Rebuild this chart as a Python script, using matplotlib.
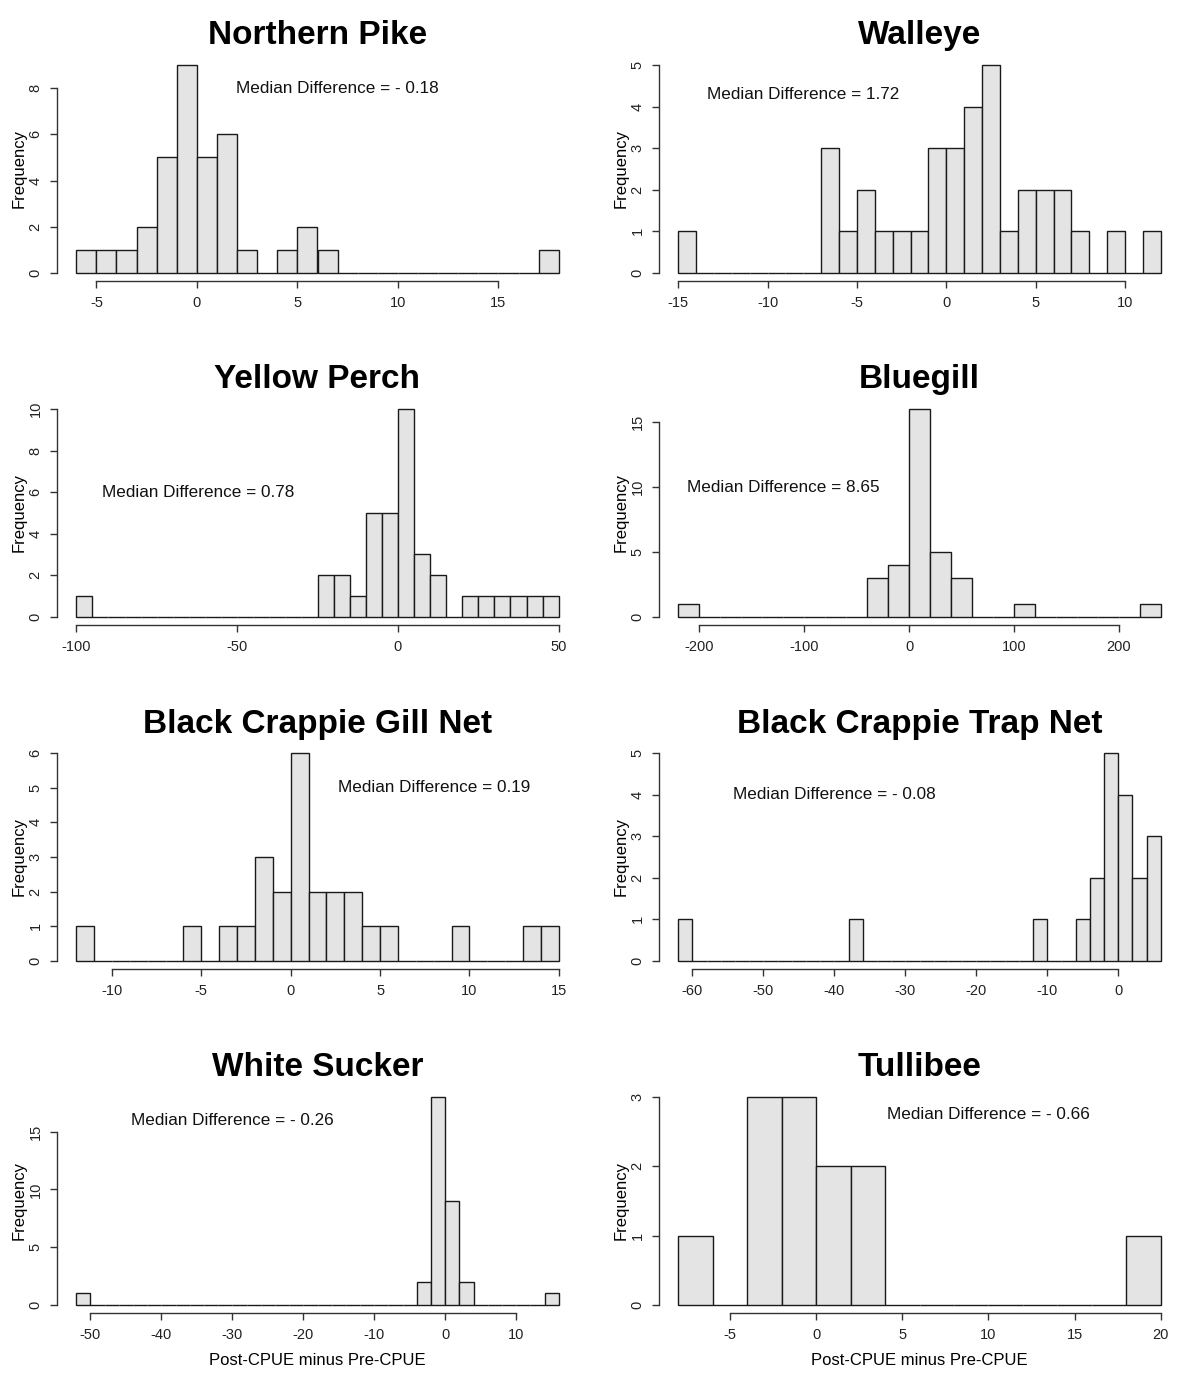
import numpy as np
import matplotlib
matplotlib.use("Agg")
import matplotlib.pyplot as plt

plt.rcParams['font.family'] = ['Liberation Sans', 'DejaVu Sans']
plt.rcParams['axes.unicode_minus'] = False

# species panels, in reading order (2 columns x 4 rows)
species = ['Northern Pike', 'Walleye', 'Yellow Perch', 'Bluegill',
           'Black Crappie Gill Net', 'Black Crappie Trap Net',
           'White Sucker', 'Tullibee']

# histogram breaks: (first break, last break, bin width)
breaks = [(-6, 18, 1), (-15, 12, 1), (-100, 50, 5), (-220, 240, 20),
          (-12, 15, 1), (-62, 6, 2), (-52, 16, 2), (-8, 20, 2)]

# counts per bin
np_counts = [1, 1, 1, 2, 5, 9, 5, 6, 1, 0, 1, 2, 1, 0, 0, 0, 0, 0, 0, 0, 0, 0, 0, 1]
wal_counts = [1, 0, 0, 0, 0, 0, 0, 0, 3, 1, 2, 1, 1, 1, 3, 3, 4, 5, 1, 2, 2, 2, 1, 0, 1, 0, 1]
yp_counts = [1, 0, 0, 0, 0, 0, 0, 0, 0, 0, 0, 0, 0, 0, 0, 2, 2, 1, 5, 5, 10, 3, 2, 0,
             1, 1, 1, 1, 1, 1]
bg_counts = [1, 0, 0, 0, 0, 0, 0, 0, 0, 3, 4, 16, 5, 3, 0, 0, 1, 0, 0, 0, 0, 0, 1]
bcg_counts = [1, 0, 0, 0, 0, 0, 1, 0, 1, 1, 3, 2, 6, 2, 2, 2, 1, 1, 0, 0, 0, 1, 0, 0,
              0, 1, 1]
bct_counts = [1, 0, 0, 0, 0, 0, 0, 0, 0, 0, 0, 0, 1, 0, 0, 0, 0, 0, 0, 0, 0, 0, 0, 0,
              0, 1, 0, 0, 1, 2, 5, 4, 2, 3]
ws_counts = [1, 0, 0, 0, 0, 0, 0, 0, 0, 0, 0, 0, 0, 0, 0, 0, 0, 0, 0, 0, 0, 0, 0, 0,
             2, 18, 9, 2, 0, 0, 0, 0, 0, 1]
tul_counts = [1, 0, 3, 3, 2, 2, 0, 0, 0, 0, 0, 0, 0, 1]
counts = [np_counts, wal_counts, yp_counts, bg_counts,
          bcg_counts, bct_counts, ws_counts, tul_counts]

medians = ['- 0.18', '1.72', '0.78', '8.65', '0.19', '- 0.08', '- 0.26', '- 0.66']
label_xy = [(7, 8), (-8, 4.3), (-62, 6), (-120, 10),
            (8, 5), (-40, 4), (-30, 16), (10, 2.75)]

xticks = [[-5, 0, 5, 10, 15], [-15, -10, -5, 0, 5, 10], [-100, -50, 0, 50],
          [-200, -100, 0, 100, 200], [-10, -5, 0, 5, 10, 15],
          [-60, -50, -40, -30, -20, -10, 0], [-50, -40, -30, -20, -10, 0, 10],
          [-5, 0, 5, 10, 15, 20]]
yticks = [[0, 2, 4, 6, 8], [0, 1, 2, 3, 4, 5], [0, 2, 4, 6, 8, 10], [0, 5, 10, 15],
          [0, 1, 2, 3, 4, 5, 6], [0, 1, 2, 3, 4, 5], [0, 5, 10, 15], [0, 1, 2, 3]]

W, H = 1204, 1376
fig = plt.figure(figsize=(W / 100, H / 100), dpi=100)
fig.patch.set_facecolor('white')

for i, name in enumerate(species):
    r, c = divmod(i, 2)
    left = 602 * c + 57
    top = 344 * r + 57
    ax = fig.add_axes([left / W, 1 - (top + 224) / H, 521 / W, 224 / H])

    lo, hi, step = breaks[i]
    edges = np.arange(lo, hi + step / 2, step)
    ax.bar(edges[:-1], counts[i], width=step, align='edge',
           color='#e4e4e4', edgecolor='#1a1a1a', linewidth=1.0)

    pad = 0.04 * (hi - lo)
    ax.set_xlim(lo - pad, hi + pad)
    ymax = max(counts[i])
    ax.set_ylim(-0.04 * ymax, 1.04 * ymax)

    for s in ('top', 'right'):
        ax.spines[s].set_visible(False)
    ax.spines['bottom'].set_bounds(xticks[i][0], xticks[i][-1])
    ax.spines['left'].set_bounds(yticks[i][0], yticks[i][-1])
    for s in ('bottom', 'left'):
        ax.spines[s].set_color('#333333')
        ax.spines[s].set_linewidth(1.0)

    ax.set_xticks(xticks[i])
    ax.set_yticks(yticks[i])
    ax.tick_params(length=5, width=1, color='#333333', labelsize=10.5,
                   labelcolor='#222222')
    ax.tick_params(axis='x', pad=6)
    ax.tick_params(axis='y', pad=5.5)
    for lab in ax.get_yticklabels():
        lab.set_rotation(90)
        lab.set_va('center')

    ax.set_title(name, fontsize=24, fontweight='bold', pad=9)
    ax.set_ylabel('Frequency', fontsize=12, labelpad=1)
    if r == 3:
        ax.set_xlabel('Post-CPUE minus Pre-CPUE', fontsize=12, labelpad=8)

    tx, ty = label_xy[i]
    ax.text(tx, ty, 'Median Difference = ' + medians[i], fontsize=12.3,
            ha='center', va='center', color='#111111')

fig.savefig('out.png', dpi=100)
